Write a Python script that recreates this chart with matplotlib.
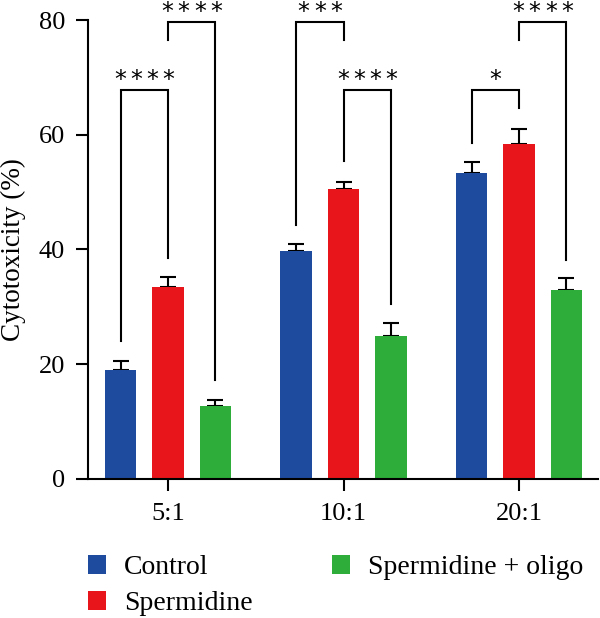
import numpy as np
import matplotlib.pyplot as plt

plt.rcParams['font.family'] = ['Liberation Serif', 'DejaVu Serif']

ratios = ["5:1", "10:1", "20:1"]
groups = ["Control", "Spermidine", "Spermidine + oligo"]
colors = ["#1f4b9f", "#e8161b", "#2ead3a"]

control = [19.0, 39.7, 53.4]
control_err = [1.6, 1.3, 1.8]
spermidine = [33.4, 50.6, 58.4]
spermidine_err = [1.8, 1.2, 2.6]
oligo = [12.7, 25.0, 32.9]
oligo_err = [1.1, 2.2, 2.2]

# brackets: (group, bar a, bar b, top y, leg end a, leg end b, number of stars)
brackets = [
    (0, 0, 1, 67.8, 24.1, 38.6, 4),
    (0, 1, 2, 79.7, 76.5, 17.3, 4),
    (1, 0, 1, 79.7, 44.3, 76.5, 3),
    (1, 1, 2, 67.8, 55.4, 30.5, 4),
    (2, 0, 1, 67.8, 58.5, 64.6, 1),
    (2, 1, 2, 79.7, 76.5, 38.2, 4),
]

x = np.arange(len(ratios))
off = 0.27
w = 0.18

fig = plt.figure(figsize=(6, 6.18), dpi=100)
ax = fig.add_axes([0.1467, 0.225, 0.85, 0.7426])

series = [(control, control_err), (spermidine, spermidine_err), (oligo, oligo_err)]
for i, (vals, errs) in enumerate(series):
    pos = x + (i - 1) * off
    ax.bar(pos, vals, width=w, color=colors[i], label=groups[i], zorder=2)
    ax.errorbar(pos, vals, yerr=[np.zeros(len(errs)), errs], fmt='none',
                ecolor='black', elinewidth=1.5, capsize=5.5, capthick=1.5, zorder=1)

pitch = 11.7  # points between stars
for g, a, b, top, ya, yb, n in brackets:
    xa = x[g] + (a - 1) * off
    xb = x[g] + (b - 1) * off
    ax.plot([xa, xa, xb, xb], [ya, top, top, yb], color='black', lw=1.5,
            clip_on=False, solid_joinstyle='miter')
    for k in range(n):
        ax.annotate("*", ((xa + xb) / 2, top + 1.7), xytext=((k - (n - 1) / 2) * pitch, 0),
                    textcoords='offset points', ha='center', va='center',
                    fontsize=17, family='DejaVu Sans', annotation_clip=False)

ax.set_xlim(-0.456, 2.45)
ax.set_ylim(0, 80)
ax.set_yticks([0, 20, 40, 60, 80])
ax.set_xticks(x)
ax.set_xticklabels(ratios)
ax.set_ylabel("Cytotoxicity (%)", fontsize=19.5, labelpad=9)
ax.tick_params(labelsize=19, width=1.5, length=8.5, direction='out')
ax.tick_params(axis='x', pad=9)
ax.tick_params(axis='y', pad=8)
for sp in ['top', 'right']:
    ax.spines[sp].set_visible(False)
for sp in ['left', 'bottom']:
    ax.spines[sp].set_linewidth(1.5)

fig.legend(loc='upper left', bbox_to_anchor=(0.1467, 0.102), ncol=2, frameon=False,
           fontsize=20, handlelength=0.65, handleheight=0.65, handletextpad=0.65,
           columnspacing=2.85, labelspacing=0.4, borderaxespad=0, borderpad=0)

fig.savefig("out.png", dpi=100)
